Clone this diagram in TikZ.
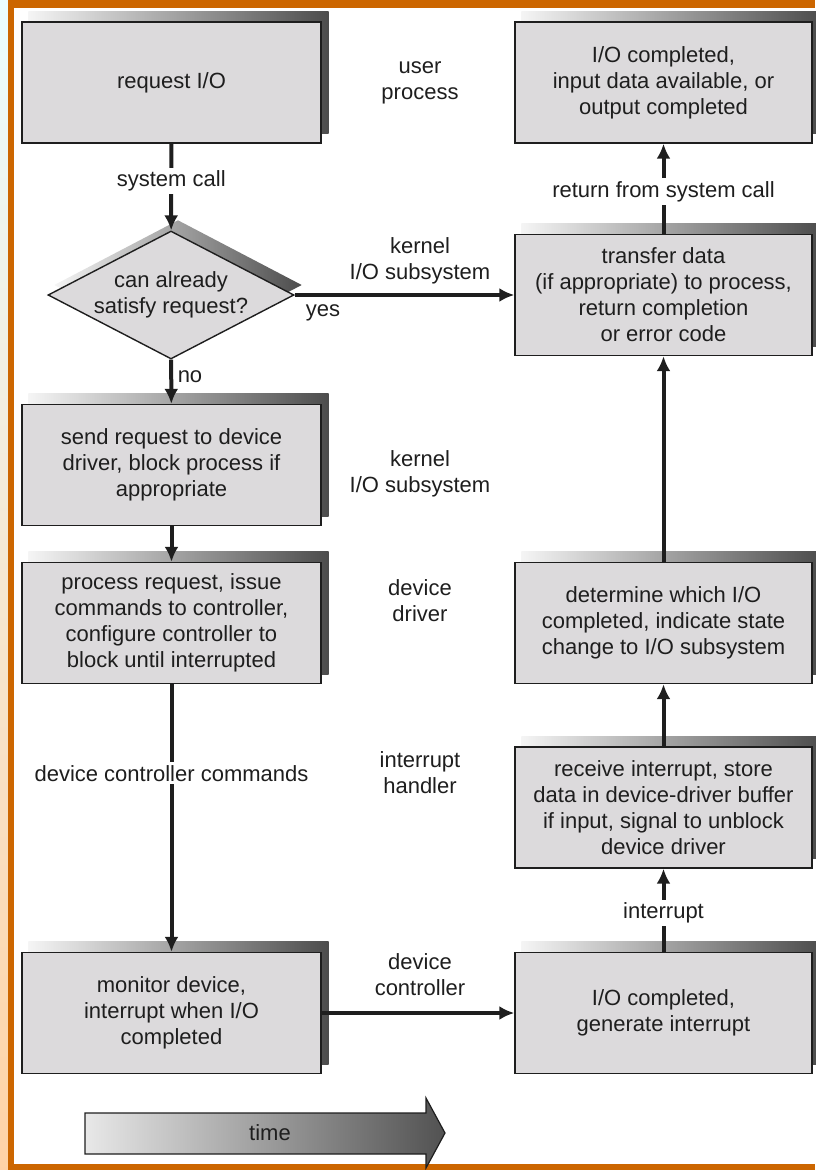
\documentclass[tikz,border=0pt]{standalone}
\usepackage{fontspec}
\setmainfont{Liberation Sans}
\usetikzlibrary{arrows.meta,shapes.geometric}
\pgfdeclarelayer{background}
\pgfsetlayers{background,main}
\definecolor{boxgray}{HTML}{DCDADC}
\definecolor{frameorange}{HTML}{CC6600}
\definecolor{inkgray}{HTML}{1E1E1E}
\tikzset{
  stepbox/.style={draw=inkgray, line width=1.4pt, fill=boxgray, minimum width=299pt, minimum height=121pt, align=center, inner sep=0pt},
  boxshade/.style={left color=gray!8, right color=black!70},
  flow/.style={line width=4pt, draw=inkgray, -{Latex[length=15pt,width=14pt]}},
  tag/.style={align=center},
  gaplabel/.style={fill=white, inner sep=3pt},
}
\begin{document}
\begin{tikzpicture}[x=1pt,y=-1pt,font=\fontsize{22}{26}\selectfont,text=inkgray]
\useasboundingbox (0,0) rectangle (815,1170);
% boxes, left column
\node[stepbox] (req) at (171.5,82.5) {request I/O};
\node[shape=diamond, draw=inkgray, line width=1.4pt, fill=boxgray, minimum width=246pt, minimum height=128pt, inner sep=0pt] (dia) at (171,295) {};
\node[tag] (diatext) at (dia.center) {can already\\satisfy request?};
\node[stepbox] (send) at (171.5,465) {send request to device\\driver, block process if\\appropriate};
\node[stepbox] (proc) at (171.5,623) {process request, issue\\commands to controller,\\configure controller to\\block until interrupted};
\node[stepbox] (monitor) at (171.5,1013) {monitor device,\\interrupt when I/O\\completed};
% boxes, right column
\node[stepbox, minimum width=297pt] (done) at (663.5,82.5) {I/O completed,\\input data available, or\\output completed};
\node[stepbox, minimum width=297pt] (transfer) at (663.5,295) {transfer data\\(if appropriate) to process,\\return completion\\or error code};
\node[stepbox, minimum width=297pt] (determine) at (663.5,623) {determine which I/O\\completed, indicate state\\change to I/O subsystem};
\node[stepbox, minimum width=297pt] (receive) at (663.5,807.5) {receive interrupt, store\\data in device-driver buffer\\if input, signal to unblock\\device driver};
\node[stepbox, minimum width=297pt] (gen) at (663.5,1013) {I/O completed,\\generate interrupt};
% layer names
\node[tag] (userlbl) at (420,83) {user\\process};
\node[tag] (kern1) at (420,261) {kernel\\I/O subsystem};
\node[tag] (yeslbl) at (323,313) {yes};
\node[tag] (nolbl) at (190,377) {no};
\node[tag] (kern2) at (420,474) {kernel\\I/O subsystem};
\node[tag] (drvlbl) at (420,601) {device\\driver};
\node[tag] (hdlrlbl) at (420,773) {interrupt\\handler};
\node[tag] (ctrllbl) at (420,975) {device\\controller};
% connectors
\draw[flow] (req) -- node[pos=0.43, gaplabel] {system call} (dia);
\draw[flow] (dia) -- (send);
\draw[flow] (dia.east) -- (transfer.west);
\draw[flow] (send) -- (proc);
\draw[flow] (proc) -- node[pos=0.333, gaplabel] {device controller commands} (monitor);
\draw[flow] (monitor) -- (gen);
\draw[flow] (gen) -- node[pos=0.47, gaplabel] {interrupt} (receive);
\draw[flow] (receive) -- (determine);
\draw[flow] (determine) -- (transfer);
\draw[flow] (transfer) -- node[pos=0.47, gaplabel] {return from system call} (done);
% time arrow
\shade[left color=gray!18, right color=black!68, draw=inkgray, line width=1.2pt] (85,1113) -- (426,1113) -- (426,1098) -- (445,1133) -- (426,1168) -- (426,1154) -- (85,1154) -- cycle;
\node (timelbl) at (270,1133) {time};
% frame and shadows
\begin{pgfonlayer}{background}
\shade[top color=blue!10!cyan!8, bottom color=orange!35] (0,0) rectangle (8,1170);
\fill[frameorange] (8,0) rectangle (815,8);
\fill[frameorange] (8,0) rectangle (14,1170);
\fill[frameorange] (8,1164) rectangle (815,1170);
\foreach \b in {req,done,send,proc,monitor,transfer,determine,receive,gen}
  \shade[boxshade] ([shift={(7,-10)}]\b.south west) rectangle ([shift={(7,-10)}]\b.north east);
\shade[boxshade] ([shift={(7,-10)}]dia.north) -- ([shift={(7,-10)}]dia.east) -- ([shift={(7,-10)}]dia.south) -- ([shift={(7,-10)}]dia.west) -- cycle;
\end{pgfonlayer}
\end{tikzpicture}
\end{document}
